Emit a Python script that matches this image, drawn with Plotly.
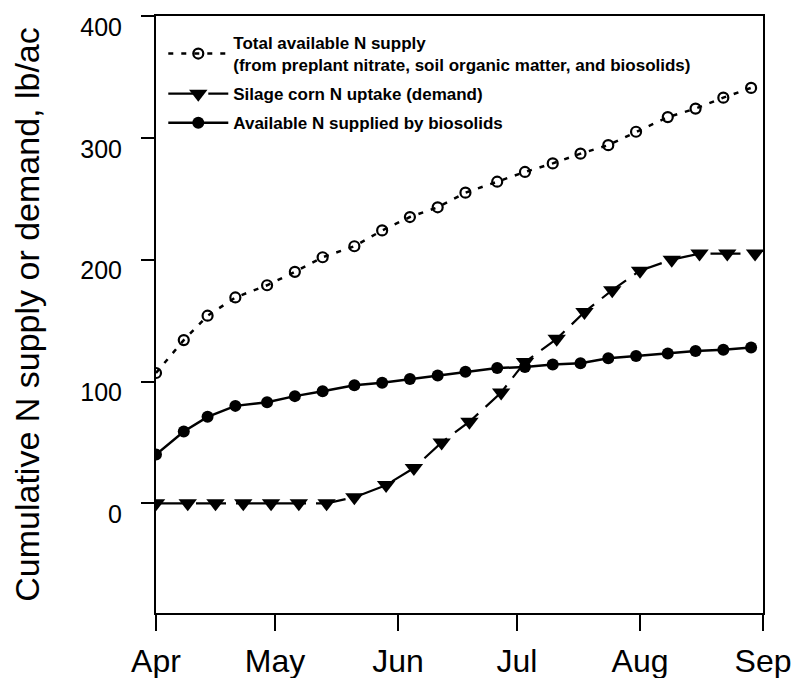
import plotly.graph_objects as go

# Sampling dates (2001 season) for the supply series
supply_dates = [
    "2001-04-01", "2001-04-08", "2001-04-14", "2001-04-21", "2001-04-29",
    "2001-05-06", "2001-05-13", "2001-05-21", "2001-05-28", "2001-06-04",
    "2001-06-11", "2001-06-18", "2001-06-26", "2001-07-03", "2001-07-10",
    "2001-07-17", "2001-07-24", "2001-07-31", "2001-08-08", "2001-08-15",
    "2001-08-22", "2001-08-29",
]
# Sampling dates for the crop uptake series
demand_dates = [
    "2001-04-01", "2001-04-09", "2001-04-16", "2001-04-23", "2001-04-30",
    "2001-05-07", "2001-05-14", "2001-05-21", "2001-05-29", "2001-06-05",
    "2001-06-12", "2001-06-19", "2001-06-27", "2001-07-03", "2001-07-11",
    "2001-07-18", "2001-07-25", "2001-08-01", "2001-08-09", "2001-08-16",
    "2001-08-23", "2001-08-30",
]

# Cumulative N, lb/ac
total_supply = [107, 134, 154, 169, 179, 190, 202, 211, 224, 235, 243,
                255, 264, 272, 279, 287, 294, 305, 317, 324, 333, 341]
corn_uptake = [0, 0, 0, 0, 0, 0, 0, 5, 15, 29, 50,
               67, 91, 116, 135, 157, 175, 191, 200, 205, 205, 205]
biosolids_n = [40, 59, 71, 80, 83, 88, 92, 97, 99, 102, 105,
               108, 111, 112, 114, 115, 119, 121, 123, 125, 126, 128]

y_ticks = [0, 100, 200, 300, 400]

FONT = "Arial, Liberation Sans, Helvetica, sans-serif"

fig = go.Figure()

fig.add_trace(go.Scatter(
    x=supply_dates, y=total_supply, mode="lines+markers",
    name="Total available N supply<br>(from preplant nitrate, soil organic matter, and biosolids)",
    line=dict(color="black", width=2.5, dash="5px,8px"),
    marker=dict(symbol="circle-open", size=10, color="black", line=dict(width=2.2)),
    legendgroup="a",
))
fig.add_trace(go.Scatter(
    x=demand_dates, y=corn_uptake, mode="lines+markers",
    name="Silage corn N uptake (demand)",
    line=dict(color="black", width=2.2, dash="30px,10px"),
    marker=dict(symbol="triangle-down", size=16, color="black"),
    legendgroup="b",
))
fig.add_trace(go.Scatter(
    x=supply_dates, y=biosolids_n, mode="lines+markers",
    name="Available N supplied by biosolids",
    line=dict(color="black", width=2.5),
    marker=dict(symbol="circle", size=12, color="black"),
    legendgroup="c",
))

fig.update_layout(
    width=797, height=678,
    margin=dict(l=156, r=34, t=16, b=65),
    paper_bgcolor="white", plot_bgcolor="white",
    font=dict(family=FONT, color="black"),
    showlegend=True,
    legend=dict(
        x=0.012, y=0.985, xanchor="left", yanchor="top",
        bgcolor="rgba(0,0,0,0)", borderwidth=0,
        font=dict(family=FONT, size=17, color="black", weight="bold"),
        itemwidth=60, tracegroupgap=4, traceorder="grouped",
    ),
)

fig.update_xaxes(
    type="date", range=["2001-04-01", "2001-09-01"],
    tick0="2001-04-01", dtick="M1", tickformat="%b",
    showgrid=False, zeroline=False, automargin=False,
    showline=True, linecolor="black", linewidth=2, mirror=True,
    ticks="outside", ticklen=16, tickwidth=2, tickcolor="black",
    tickfont=dict(family=FONT, size=32, color="black"),
    ticklabelstandoff=3, ticklabeloverflow="allow",
)
fig.update_yaxes(
    range=[-90, 400], tickvals=y_ticks,
    showgrid=False, zeroline=False, automargin=False,
    showline=True, linecolor="black", linewidth=2, mirror=True,
    ticks="outside", ticklen=13, tickwidth=2, tickcolor="black",
    tickfont=dict(family=FONT, size=25, color="black"),
    ticklabelshift=11, ticklabelstandoff=14, ticklabeloverflow="allow",
    title=dict(text="Cumulative N supply or demand, lb/ac",
               font=dict(family=FONT, size=34, color="black"), standoff=30),
)

fig.write_html("out.html")
